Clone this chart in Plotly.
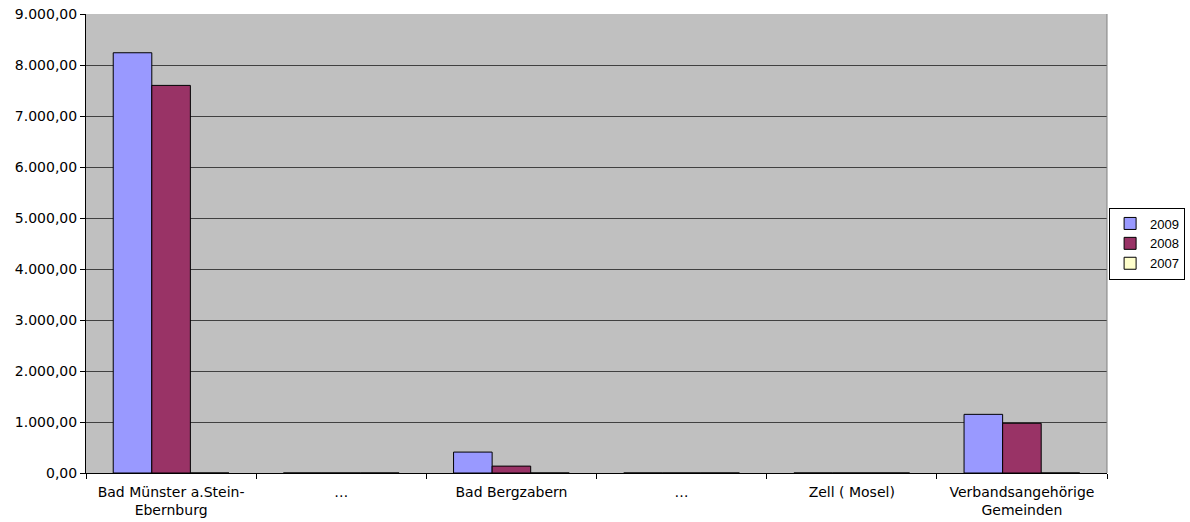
import plotly.graph_objects as go

categories = ["Bad Münster a.Stein-<br>Ebernburg", "…", "Bad Bergzabern", "…",
              "Zell ( Mosel)", "Verbandsangehörige<br>Gemeinden"]
v2009 = [8240, 0, 410, 0, 0, 1150]
v2008 = [7600, 0, 135, 0, 0, 975]
v2007 = [0, 0, 0, 0, 0, 0]
y_ticks = [0, 1000, 2000, 3000, 4000, 5000, 6000, 7000, 8000, 9000]

pos = list(range(len(categories)))
FONT = "DejaVu Sans"

fig = go.Figure()
series = [("2009", v2009, "#9999FF"), ("2008", v2008, "#993366"), ("2007", v2007, "#FFFFCC")]
for name, vals, col in series:
    fig.add_trace(go.Bar(x=pos, y=vals, name=name, marker=dict(color=col, line=dict(color="black", width=1))))

fig.update_layout(
    width=1190, height=522,
    margin=dict(l=86, r=83, t=14, b=49, autoexpand=False),
    barmode="group", bargap=0.32, bargroupgap=0,
    plot_bgcolor="#C0C0C0", paper_bgcolor="white",
    separators=",.",
    font=dict(family=FONT, size=14, color="black"),
    legend=dict(x=1.0765, y=0.5, xanchor="right", yanchor="middle",
                bordercolor="black", borderwidth=1, bgcolor="white",
                font=dict(family="Liberation Sans", size=13), itemwidth=30, tracegroupgap=0),
    showlegend=True,
)
fig.update_xaxes(
    range=[-0.5, len(categories) - 0.5], automargin=False,
    tickvals=pos, ticktext=categories, ticks="",
    showgrid=False, zeroline=False,
    showline=True, linecolor="black", linewidth=1,
    minor=dict(tickvals=[p - 0.5 for p in pos] + [len(pos) - 0.5], ticks="outside", ticklen=5,
               tickcolor="black", showgrid=False),
    tickfont=dict(size=14), ticklabeloverflow="allow", ticklabelstandoff=6,
)
fig.update_yaxes(
    range=[0, 9000], tickvals=y_ticks, tickformat=",.2f", automargin=False,
    ticks="outside", ticklen=5, tickcolor="black",
    showgrid=True, gridcolor="#404040", gridwidth=1,
    zeroline=False, showline=True, linecolor="black", linewidth=1,
    tickfont=dict(size=14), ticklabeloverflow="allow",
)
fig.add_shape(type="line", xref="paper", yref="paper", x0=1, x1=1, y0=0, y1=1,
              line=dict(color="#808080", width=1))
fig.write_html("out.html", config={"displayModeBar": False},
               post_script="document.body.style.margin='0px';document.body.style.overflow='hidden';")
